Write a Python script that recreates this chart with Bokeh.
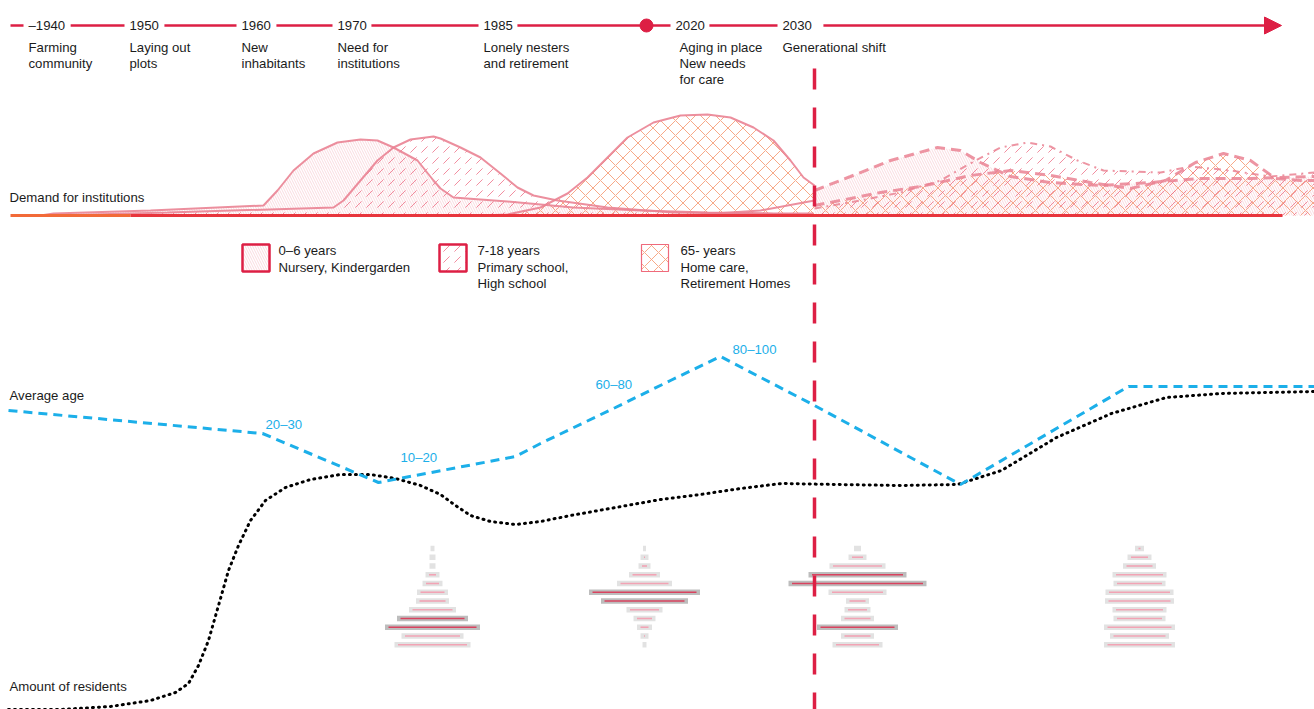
from bokeh.plotting import figure
from bokeh.models import Range1d, Arrow, NormalHead
from bokeh.core.properties import value
from bokeh.embed import file_html
from bokeh.resources import INLINE

# ---------------- data ----------------
tl_labels = ["\u20131940", "1950", "1960", "1970", "1985", "2020", "2030"]
tl_x = [28, 129, 241, 337, 483, 675, 782]
tl_desc_x = [28, 129, 241, 337, 483, 679, 782]
tl_desc = [["Farming", "community"], ["Laying out", "plots"], ["New", "inhabitants"],
           ["Need for", "institutions"], ["Lonely nesters", "and retirement"],
           ["Aging in place", "New needs", "for care"], ["Generational shift"]]
tl_marker_x = [646]
now_x = 814

# demand curves (height above baseline)
d06_x = [40, 53, 150, 263, 277, 293, 313, 337, 360, 377, 393, 417, 433, 440, 453, 507, 573, 640, 707, 773, 813]
d06_h = [0, 2, 5, 10, 25, 45, 62, 73, 76, 75, 68, 55, 35, 27, 18, 14, 8, 5, 3, 2, 2]
d718_x = [53, 167, 333, 343, 360, 377, 393, 410, 433, 440, 460, 480, 500, 517, 533, 557, 607, 673, 740, 800]
d718_h = [0, 3, 8, 15, 35, 55, 68, 76, 79, 77, 68, 58, 42, 28, 20, 15, 8, 3, 2, 1]
d65_x = [480, 507, 540, 567, 587, 607, 627, 653, 680, 707, 730, 753, 773, 790, 803, 814]
d65_h = [0, 1, 8, 22, 38, 58, 78, 93, 100, 101, 98, 88, 75, 55, 38, 30]
d06b_x = [700, 760, 814]
d06b_h = [1, 5, 15]
f06_x = [814, 850, 890, 937, 960, 980, 1010, 1050, 1100, 1150, 1200, 1250, 1314]
f06_h = [25, 39, 55, 68, 65, 53, 39, 33, 30, 33, 37, 37, 39]
f718_x = [814, 860, 900, 940, 975, 1000, 1027, 1050, 1077, 1103, 1160, 1190, 1230, 1270, 1314]
f718_h = [7, 15, 23, 35, 55, 68, 73, 69, 55, 45, 43, 49, 45, 39, 43]
f65_x = [814, 850, 880, 920, 970, 1010, 1050, 1090, 1130, 1165, 1195, 1223, 1250, 1275, 1300, 1314]
f65_h = [10, 17, 23, 29, 40, 45, 40, 33, 27, 35, 53, 62, 55, 37, 35, 35]

# average age (dashed blue) and residents (dotted black)
age_x = [8, 262, 378, 515, 540, 615, 670, 720, 814, 960, 1128, 1314]
age_y = [410, 433, 482, 456, 443, 407, 380, 356, 405, 484, 386, 386]
age_lbl = ["20\u201330", "10\u201320", "60\u201380", "80\u2013100"]
age_lbl_x = [265, 400, 595, 732]
age_lbl_y = [424, 457, 384, 349]
res_x = [8, 60, 110, 150, 175, 188, 198, 208, 218, 228, 238, 250, 265, 285, 310, 340, 370, 395, 420, 440,
         455, 470, 490, 515, 540, 570, 615, 660, 700, 740, 781, 836, 900, 957, 1001, 1056, 1111, 1166, 1221, 1314]
res_y = [709, 709, 706, 700, 692, 683, 665, 640, 605, 570, 545, 520, 500, 487, 479, 474, 474, 478, 485, 494,
         505, 515, 521, 524, 521, 515, 507, 499, 494, 488, 483, 484, 485, 484, 470, 437, 413, 397, 393, 391]

# population pyramids (bar widths per age row, top = oldest)
pyr_x = [432, 644, 857, 1139]
pyr_w = [[4, 6, 6, 14, 20, 31, 33, 47, 71, 95, 62, 76],
         [3, 8, 12, 31, 55, 111, 87, 36, 22, 15, 8, 4],
         [7, 18, 56, 98, 138, 58, 23, 26, 33, 81, 33, 50],
         [9, 24, 33, 54, 52, 68, 69, 54, 52, 71, 59, 71]]
pyr_hi = [[8, 9], [5, 6], [3, 4, 9], []]

leg_titles = [["0\u20136 years", "Nursery, Kindergarden"],
              ["7-18 years", "Primary school,", "High school"],
              ["65- years", "Home care,", "Retirement Homes"]]

# ---------------- style ----------------
RED = "#dd1f44"
PINK = "#ea8393"
HATCH_PINK = "#f08fa0"
ORANGE = "#f6a07a"
BLUE = "#1cafe9"
TXT = "#1b1b1b"
FONT = value("Liberation Sans")
FS = "13.2px"

W, H = 1314, 709
p = figure(width=W, height=H, x_range=Range1d(0, W), y_range=Range1d(H, 0),
           output_backend="svg", toolbar_location=None, x_axis_type=None, y_axis_type=None,
           min_border=0)
p.outline_line_color = None
p.grid.visible = False
DEM_BASE = 215
p.extra_y_ranges = {"demand": Range1d(DEM_BASE - H, DEM_BASE)}


def txt(xs, ys, texts, color=TXT, size=FS):
    p.text(x=xs, y=ys, text=texts, text_font=FONT, text_font_size=size, text_color=color,
           text_baseline="middle", text_align="left")


# ---------------- timeline ----------------
TL_Y = 25
gaps_after = [6, 6, 6, 5, 5, 5, 12]
seg_x0, seg_x1 = [10], []
for lab, x, g in zip(tl_labels, tl_x, gaps_after):
    seg_x1.append(x - 5)
    seg_x0.append(x + 7.23 * len(lab) + g)
p.segment(x0=seg_x0[:-1], y0=[TL_Y] * len(seg_x1), x1=seg_x1, y1=[TL_Y] * len(seg_x1),
          line_color=RED, line_width=2.5)
p.add_layout(Arrow(end=NormalHead(size=17, fill_color=RED, line_color=RED, line_width=1),
                   x_start=seg_x0[-1], y_start=TL_Y, x_end=1281, y_end=TL_Y,
                   line_color=RED, line_width=2.5))
p.scatter(x=tl_marker_x, y=[TL_Y], size=13, color=RED)
txt(tl_x, [TL_Y] * len(tl_x), tl_labels)
dx, dy, dt = [], [], []
for x, lines in zip(tl_desc_x, tl_desc):
    for i, s in enumerate(lines):
        dx.append(x); dy.append(46.5 + 16 * i); dt.append(s)
txt(dx, dy, dt)

# ---------------- demand ----------------
hatch06 = dict(hatch_pattern="\\", hatch_color=HATCH_PINK, hatch_scale=5, hatch_weight=0.6, hatch_alpha=0.55)
hatch718 = dict(hatch_pattern=",", hatch_color="#ee6f86", hatch_scale=11, hatch_weight=1, hatch_alpha=0.8)
hatch65 = dict(hatch_pattern="x", hatch_color=ORANGE, hatch_scale=15, hatch_weight=1, hatch_alpha=0.9)

for xs, hs, h in [(d65_x, d65_h, hatch65), (f65_x, f65_h, hatch65),
                  (d06_x, d06_h, hatch06), (f06_x, f06_h, hatch06),
                  (d718_x, d718_h, hatch718), (f718_x, f718_h, hatch718)]:
    p.varea(x=xs, y1=[0] * len(xs), y2=hs, fill_alpha=0, y_range_name="demand", **h)

for xs, hs in [(d06_x, d06_h), (d718_x, d718_h), (d65_x, d65_h), (d06b_x, d06b_h)]:
    p.line(xs, hs, line_color=PINK, line_width=2, line_alpha=0.9, y_range_name="demand")
p.line(f06_x, f06_h, line_color=PINK, line_width=3, line_alpha=0.85, line_dash="10 6", y_range_name="demand")
p.line(f718_x, f718_h, line_color=PINK, line_width=2, line_alpha=0.85, line_dash="7 5 2 5", y_range_name="demand")
p.line(f65_x, f65_h, line_color=PINK, line_width=3, line_alpha=0.85, line_dash="10 6", y_range_name="demand")

p.segment(x0=[10, 130], y0=[0, 0], x1=[130, 1282], y1=[0, 0], line_color=["#f26a38", "#e8353d"],
          line_width=3, y_range_name="demand")
txt([9], [197], ["Demand for institutions"])

# legend
leg_x = [255.5, 452.5, 654.5]
leg_hatch = [hatch06, hatch718, dict(hatch65, hatch_scale=14)]
leg_line = [(RED, 2.5), (RED, 2.5), ("#ef6a7c", 1.2)]
for cx, h, (lc, lw) in zip(leg_x, leg_hatch, leg_line):
    p.rect(x=[cx], y=[257.5], width=27, height=27, fill_color="white", line_color=lc, line_width=lw, **h)
lx, ly, lt = [], [], []
for x, lines in zip([278, 477, 680], leg_titles):
    for i, s in enumerate(lines):
        lx.append(x); ly.append(250 + 16.5 * i); lt.append(s)
txt(lx, ly, lt)

# ---------------- lower section ----------------
txt([9], [395], ["Average age"])
txt([9], [686], ["Amount of residents"])
p.line(res_x, res_y, line_color="black", line_width=3, line_dash="1 5", line_cap="round")
p.line(age_x, age_y, line_color=BLUE, line_width=3, line_dash="9 6")
txt(age_lbl_x, age_lbl_y, age_lbl, color=BLUE)

# pyramids
for cx, widths, hi in zip(pyr_x, pyr_w, pyr_hi):
    ys = [548 + 8.75 * i for i in range(len(widths))]
    cols = ["#bdbdbd" if i in hi else "#e2e2e2" for i in range(len(widths))]
    p.rect(x=[cx] * len(widths), y=ys, width=widths, height=5.5, fill_color=cols, line_color=None)
    inner = [max(w - 7, 0) for w in widths]
    icol = ["#d9435f" if i in hi else "#f2a3b4" for i in range(len(widths))]
    p.rect(x=[cx] * len(widths), y=ys, width=inner, height=1.6, fill_color=icol, line_color=None)

# present-day divider
p.segment(x0=[now_x], y0=[68], x1=[now_x], y1=[H], line_color=RED, line_width=3.5, line_dash="21 18")

open("out.html", "w").write(file_html(p, INLINE))
